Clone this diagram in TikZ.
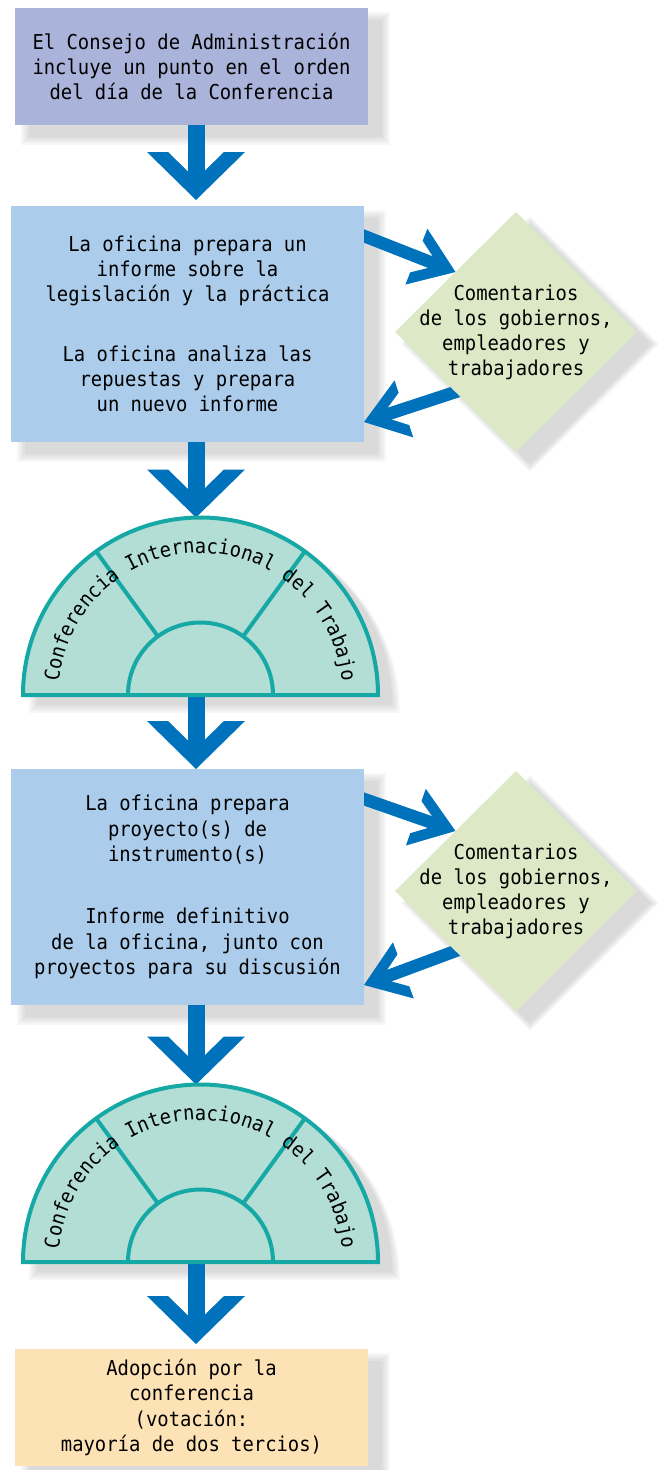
\documentclass[tikz,border=0pt]{standalone}
\usepackage{fontspec}
\setmainfont{DejaVu Sans Mono}[FakeStretch=0.92]
\usetikzlibrary{shapes.geometric,decorations.text}

\definecolor{boardcol}{HTML}{AAB4DA}
\definecolor{reportcol}{HTML}{ABCCEB}
\definecolor{commcol}{HTML}{DDE9C6}
\definecolor{confcol}{HTML}{B2DED6}
\definecolor{confline}{HTML}{16A8A4}
\definecolor{arrowcol}{HTML}{0071BB}
\definecolor{adoptcol}{HTML}{FDE2B6}

\pgfdeclarelayer{shadow}
\pgfdeclarelayer{arrows}
\pgfsetlayers{shadow,arrows,main}

% heavy arrow heads
\pgfdeclarearrow{
  name=VHead,
  setup code={
    \pgfarrowssettipend{0pt}
    \pgfarrowssetlineend{-27pt}
    \pgfarrowssetbackend{-48pt}
  },
  drawing code={
    \pgfpathmoveto{\pgfpointorigin}
    \pgfpathlineto{\pgfpoint{-48pt}{49pt}}
    \pgfpathlineto{\pgfpoint{-48pt}{28pt}}
    \pgfpathlineto{\pgfpoint{-29pt}{8.5pt}}
    \pgfpathlineto{\pgfpoint{-29pt}{-8.5pt}}
    \pgfpathlineto{\pgfpoint{-48pt}{-28pt}}
    \pgfpathlineto{\pgfpoint{-48pt}{-49pt}}
    \pgfpathclose
    \pgfusepathqfill
  }
}
\pgfdeclarearrow{
  name=DHead,
  setup code={
    \pgfarrowssettipend{0pt}
    \pgfarrowssetlineend{-26pt}
    \pgfarrowssetbackend{-42pt}
  },
  drawing code={
    \pgfpathmoveto{\pgfpointorigin}
    \pgfpathlineto{\pgfpoint{-42pt}{30pt}}
    \pgfpathlineto{\pgfpoint{-42pt}{17pt}}
    \pgfpathlineto{\pgfpoint{-27pt}{6.25pt}}
    \pgfpathlineto{\pgfpoint{-27pt}{-6.25pt}}
    \pgfpathlineto{\pgfpoint{-42pt}{-17pt}}
    \pgfpathlineto{\pgfpoint{-42pt}{-30pt}}
    \pgfpathclose
    \pgfusepathqfill
  }
}

\tikzset{
  box/.style={rectangle, minimum width=353, minimum height=117, inner sep=0,
    outer sep=0, align=center, font=\fontsize{20.5}{25.3}\selectfont},
  comm/.style={diamond, fill=commcol, minimum width=242, minimum height=240,
    inner sep=0, outer sep=0},
  commtext/.style={align=center, font=\fontsize{20.5}{25}\selectfont},
  vbig/.style={arrowcol, line width=17, -VHead},
  dbig/.style={arrowcol, line width=12.5, -DHead, shorten <=-25},
  softshadow/.style={black, opacity=0.03},
  conference/.pic={
    \fill[confcol] (-177.5,0) arc[start angle=180, end angle=0, radius=177.5] -- cycle;
    \draw[confline, line width=4] (126:72.5) -- (126:177.5) (54:72.5) -- (54:177.5);
    \draw[confline, line width=4] (-72.5,0) arc[start angle=180, end angle=0, radius=72.5];
    \draw[confline, line width=4] (-177.5,0) arc[start angle=180, end angle=0, radius=177.5] -- cycle;
    \path[decorate, decoration={text along path, text align=center,
      text={|\fontsize{20.5}{20.5}\selectfont|Conferencia Internacional del Trabajo}}]
      (178:142) arc[start angle=178, end angle=2, radius=142];
    \coordinate (-top) at (0,177.5);
    \coordinate (-base) at (0,0);
  }
}

\begin{document}
\begin{tikzpicture}[x=1pt,y=1pt]
\useasboundingbox (0,0) rectangle (659,-1470);

\node[box, fill=boardcol] (board) at (191.5,-66.5)
  {El Consejo de Administración\\incluye un punto en el orden\\del día de la Conferencia};
\node[box, fill=reportcol, minimum height=236] (report) at (187.5,-324)
  {La oficina prepara un\\informe sobre la\\legislación y la práctica\\[34pt]La oficina analiza las\\repuestas y prepara\\un nuevo informe};
\node[comm] (comm1) at (516,-332) {};
\node[commtext] (comm1text) at (comm1) {Comentarios\\de los gobiernos,\\empleadores y\\trabajadores};

\pic (conf1) at (200.5,-695) {conference};

\node[box, fill=reportcol, minimum height=236] (draft) at (187.5,-887)
  {La oficina prepara\\proyecto(s) de\\instrumento(s)\\[37pt]Informe definitivo\\de la oficina, junto con\\proyectos para su discusión};
\node[comm] (comm2) at (516,-891) {};
\node[commtext] (comm2text) at (comm2) {Comentarios\\de los gobiernos,\\empleadores y\\trabajadores};

\pic (conf2) at (200.5,-1262) {conference};

\node[box, fill=adoptcol] (adopt) at (191.5,-1407.5)
  {Adopción por la\\conferencia\\(votación:\\mayoría de dos tercios)};

\coordinate (spine) at (196,0);

\begin{pgfonlayer}{arrows}
\draw[vbig, shorten >=6] (board.south -| spine) -- (report.north -| spine);
\draw[vbig] (report.south -| spine) -- (conf1-top -| spine);
\draw[vbig] (conf1-base -| spine) -- (draft.north -| spine);
\draw[vbig] (draft.south -| spine) -- (conf2-top -| spine);
\draw[vbig, shorten >=5] (conf2-base -| spine) -- (adopt.north -| spine);
\draw[dbig] ([yshift=-30]report.north east) -- (comm1.north west);
\draw[dbig] (comm1.south west) -- ([yshift=20]report.south east);
\draw[dbig] ([yshift=-30]draft.north east) -- (comm2.north west);
\draw[dbig] (comm2.south west) -- ([yshift=20]draft.south east);
\end{pgfonlayer}

% soft shadows
\begin{pgfonlayer}{shadow}
\foreach \n in {board,report,draft,adopt}
  \foreach \d in {0,2,4,6,8}
    \fill[softshadow] ([shift={(14-\d,-12-\d)}]\n.south west) rectangle ([shift={(14+\d,-12+\d)}]\n.north east);
\foreach \n in {comm1,comm2}
  \foreach \d in {0,2,4,6,8}
    \fill[softshadow] ([shift={(14,-12+\d)}]\n.north) -- ([shift={(14+\d,-12)}]\n.east)
      -- ([shift={(14,-12-\d)}]\n.south) -- ([shift={(14-\d,-12)}]\n.west) -- cycle;
\foreach \n in {conf1,conf2}
  \foreach \d in {0,2,4,6,8}
    \fill[softshadow] ([shift={(14-177.5-\d,-10-\d)}]\n-base) arc[start angle=180, end angle=0, radius=177.5+\d] -- cycle;
\end{pgfonlayer}
\end{tikzpicture}
\end{document}
